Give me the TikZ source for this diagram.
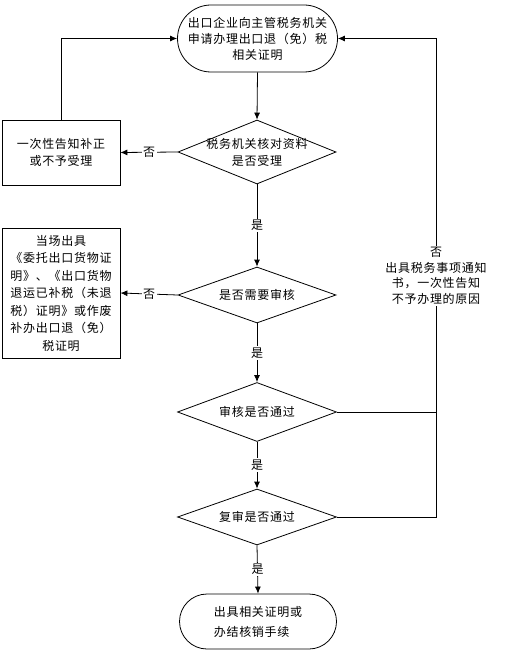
\documentclass[tikz,border=0pt]{standalone}
\usepackage{fontspec}
\setmainfont{Noto Sans CJK SC}[LetterSpace=6]
\usetikzlibrary{shapes.geometric,shapes.misc,arrows.meta}
\begin{document}
\begin{tikzpicture}[x=1pt,y=-1pt,
  font=\fontsize{12}{16}\selectfont,
  every path/.style={line width=0.8pt},
  term/.style={draw, rounded rectangle, inner sep=0pt},
  dia/.style={draw, diamond, inner sep=0pt},
  box/.style={draw, rectangle, inner sep=0pt, align=center},
  arr/.style={-{Latex[length=7pt,width=6pt]}},
  lab/.style={fill=white, inner sep=1.5pt}]
\useasboundingbox (0,0) rectangle (512,652);
\node[term, minimum width=160pt, minimum height=67pt, align=center] (top) at (257.5,38.5)
  {出口企业向主管税务机关\\申请办理出口退（免）税\\相关证明};
\node[dia, minimum width=158pt, minimum height=64pt,
  label={[align=center,font=\fontsize{12}{17}\selectfont]center:税务机关核对资料\\是否受理}] (d1) at (257,152) {};
\node[box, minimum width=118pt, minimum height=65pt, font=\fontsize{12}{17}\selectfont] (b1) at (61,152.5)
  {一次性告知补正\\或不予受理};
\node[dia, minimum width=158pt, minimum height=56pt,
  label={center:是否需要审核}] (d2) at (257,295) {};
\node[box, minimum width=118pt, minimum height=130pt, font=\fontsize{12}{17.5}\selectfont] (b2) at (61,293)
  {当场出具\\《委托出口货物证\\明》、《出口货物\\退运已补税（未退\\税）证明》或作废\\补办出口退（免）\\税证明};
\node[dia, minimum width=159pt, minimum height=59pt,
  label={center:审核是否通过}] (d3) at (257,412) {};
\node[dia, minimum width=159pt, minimum height=56pt,
  label={center:复审是否通过}] (d4) at (257,517) {};
\node[term, minimum width=157pt, minimum height=55pt, font=\fontsize{12}{20}\selectfont, align=left] (end) at (258,621.5)
  {出具相关证明或\\办结核销手续};
\coordinate (rx) at (436,0);
% main flow
\draw[arr] (top.south) -- (d1.north);
\draw[arr] (d1.south) -- node[lab] {是} (d2.north);
\draw[arr] (d2.south) -- node[lab] {是} (d3.north);
\draw[arr] (d3.south) -- node[lab] {是} (d4.north);
\draw[arr] (d4.south) -- node[lab] {是} (end.north);
% no branches
\draw[arr] (d1.west) -- node[lab] {否} (b1.east);
\draw[arr] (d2.west) -- node[lab] {否} (b2.east);
\draw[arr] (b1.north) |- (top.west);
\draw (d3.east) -- (d3.east -| rx);
\draw[arr] (d4.east) -- (d4.east -| rx) |- (top.east);
\node[lab, align=center, font=\fontsize{12}{15.5}\selectfont] (nolab) at (436,276)
  {否\\出具税务事项通知\\书，一次性告知\\不予办理的原因};
\end{tikzpicture}
\end{document}
